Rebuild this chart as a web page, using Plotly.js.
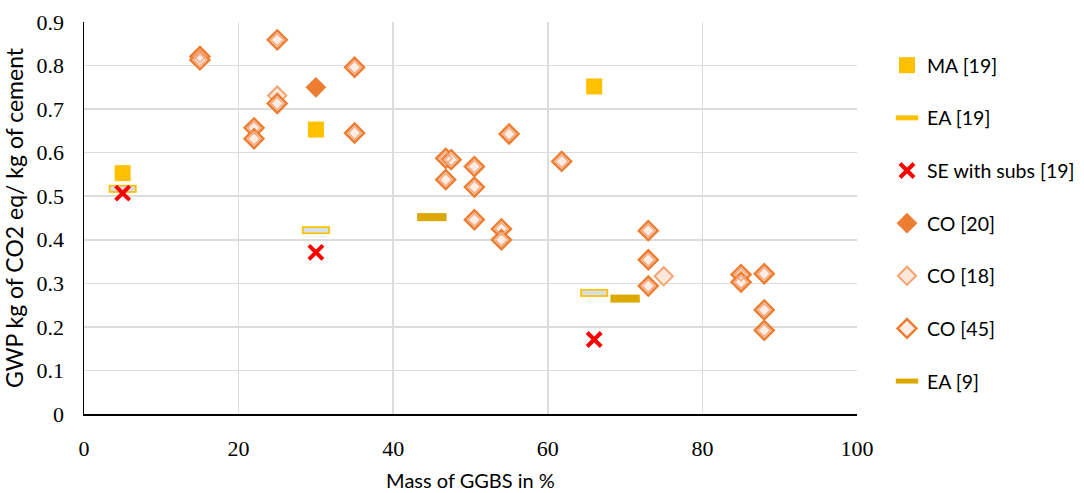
<!DOCTYPE html>
<html>
<head>
<meta charset="utf-8">
<script src="https://cdn.plot.ly/plotly-3.0.1.min.js"></script>
<style>html,body{margin:0;padding:0;background:#fff;}#chart{width:1084px;height:493px;}</style>
</head>
<body>
<div id="chart"></div>
<script>
// Mass of GGBS (%) and GWP (kg CO2 eq / kg cement) per source
const maX = [5, 30, 66];
const maY = [0.553, 0.653, 0.752];

const ea19X = [5, 30, 66];
const ea19Y = [0.517, 0.422, 0.278];

const seX = [5, 30, 66];
const seY = [0.507, 0.371, 0.171];

const co20X = [30];
const co20Y = [0.75];

const co18X = [25, 75];
const co18Y = [0.731, 0.316];

const co45X = [15, 15, 25, 25, 22, 22, 35, 35, 55, 46.8, 47.5, 50.5, 46.8, 50.5, 61.8, 50.5, 54, 54, 73, 73, 73, 85, 85, 88, 88, 88];
const co45Y = [0.821, 0.813, 0.859, 0.713, 0.657, 0.632, 0.796, 0.645, 0.643, 0.587, 0.584, 0.568, 0.538, 0.521, 0.580, 0.446, 0.425, 0.400, 0.421, 0.354, 0.294, 0.320, 0.303, 0.322, 0.239, 0.192];

const ea9X = [45, 70];
const ea9Y = [0.452, 0.265];

const sans = 'Lato, "Open Sans", sans-serif';
const serif = '"Liberation Serif", "DejaVu Serif", serif';

const traces = [
  {name: 'MA [19]', x: maX, y: maY, type: 'scatter', mode: 'markers', legendgroup: 'g1',
   marker: {symbol: 'square', size: 16, color: '#FFC000', line: {width: 0}}},
  {name: 'EA [19]', x: ea19X, y: ea19Y, type: 'scatter', mode: 'markers', legendgroup: 'g2',
   marker: {symbol: 'line-ew', size: 20, line: {color: '#FFC000', width: 8}}},
  {name: 'EA [19] fill', x: ea19X, y: ea19Y, type: 'scatter', mode: 'markers', legendgroup: 'g2', showlegend: false,
   marker: {symbol: 'line-ew', size: 17.5, line: {color: '#D3E0EC', width: 4.5}}},
  {name: 'SE with subs [19]', x: seX, y: seY, type: 'scatter', mode: 'markers', legendgroup: 'g3',
   marker: {symbol: 'x-thin', size: 14, line: {color: '#FF0000', width: 4}}},
  {name: 'CO [20]', x: co20X, y: co20Y, type: 'scatter', mode: 'markers', legendgroup: 'g4',
   marker: {symbol: 'diamond', size: 16, color: '#ED7D31', line: {width: 0}}},
  {name: 'CO [18]', x: co18X, y: co18Y, type: 'scatter', mode: 'markers', legendgroup: 'g5',
   marker: {symbol: 'diamond', size: 14, color: '#FCE8DB', line: {color: '#F4A472', width: 2}}},
  {name: 'CO [45]', x: co45X, y: co45Y, type: 'scatter', mode: 'markers', legendgroup: 'g6',
   marker: {symbol: 'diamond', size: 14.5, color: '#FDEEE5', line: {color: '#ED7D31', width: 2.5}}},
  {name: 'CO [45] inner', x: co45X, y: co45Y, type: 'scatter', mode: 'markers', legendgroup: 'g6', showlegend: false,
   marker: {symbol: 'diamond-open', size: 9.5, color: '#F3A57A', line: {color: '#F3A57A', width: 1.3}}},
  {name: 'EA [9]', x: ea9X, y: ea9Y, type: 'scatter', mode: 'markers', legendgroup: 'g7',
   marker: {symbol: 'line-ew', size: 21, line: {color: '#DDA800', width: 8}}}
];

const layout = {
  width: 1084, height: 493,
  margin: {l: 84, r: 227, t: 21.5, b: 79.3, pad: 0},
  paper_bgcolor: '#ffffff', plot_bgcolor: '#ffffff',
  showlegend: true,
  legend: {
    xref: 'container', yref: 'container',
    x: 887 / 1084, xanchor: 'left',
    y: 1 - 46 / 493, yanchor: 'top',
    maxheight: 480,
    traceorder: 'grouped', tracegroupgap: 24.3,
    font: {family: sans, size: 19.5, color: '#000000'},
    bgcolor: 'rgba(0,0,0,0)', borderwidth: 0
  },
  xaxis: {
    range: [0, 100], dtick: 20, tick0: 0,
    showgrid: true, gridcolor: '#DCDCDC', gridwidth: 1.5,
    zeroline: false, showline: true, linecolor: '#000000', linewidth: 1.5,
    ticks: '', ticklabelstandoff: 14,
    tickfont: {family: serif, size: 22, color: '#000000'},
    title: {text: 'Mass of GGBS in %', font: {family: sans, size: 20, color: '#000000'}, standoff: 14}
  },
  yaxis: {
    range: [0, 0.9], dtick: 0.1, tick0: 0,
    showgrid: true, gridcolor: '#DCDCDC', gridwidth: 1.5,
    zeroline: false, showline: true, linecolor: '#000000', linewidth: 1.5,
    ticks: '', ticklabelstandoff: 14,
    tickfont: {family: serif, size: 22, color: '#000000'},
    title: {text: 'GWP kg of CO2 eq/ kg of cement', font: {family: sans, size: 23, color: '#000000'}, standoff: 8}
  }
};

Plotly.newPlot('chart', traces, layout, {displayModeBar: false, staticPlot: true});
</script>
</body>
</html>
